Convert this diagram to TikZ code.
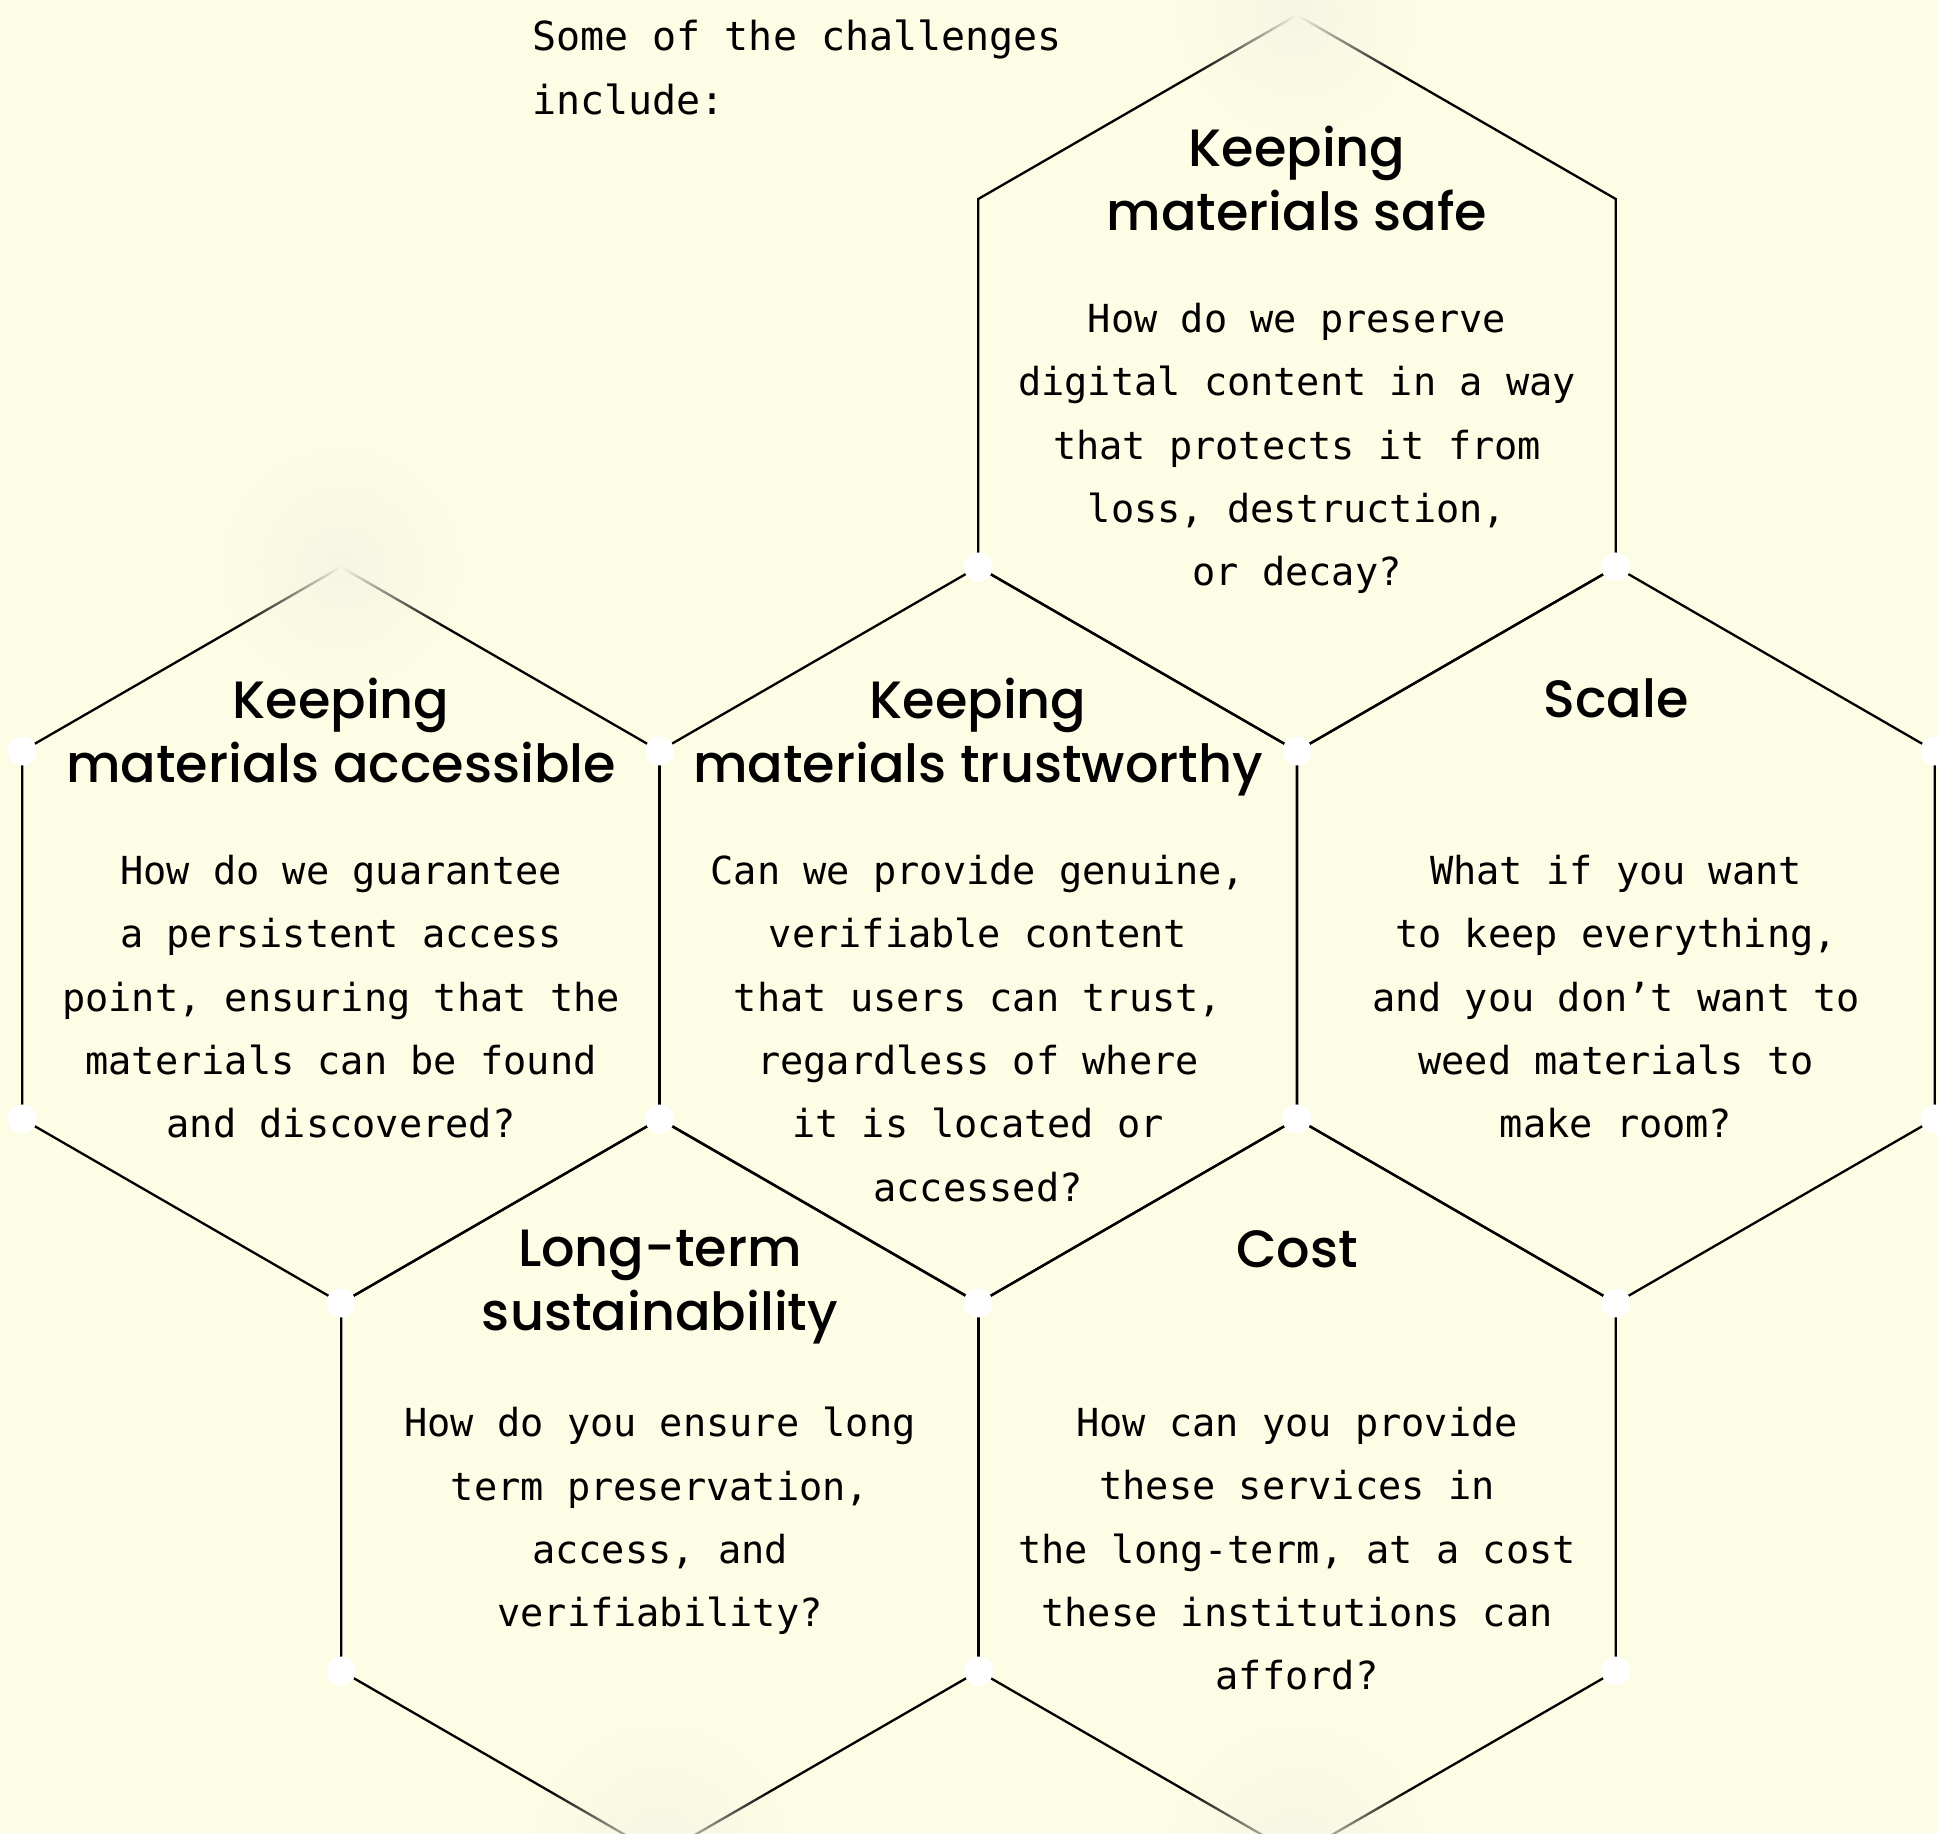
\documentclass[tikz,border=0pt]{standalone}
\usepackage{fontspec}
\setmainfont{DejaVu Sans Mono}
\newfontfamily\headfont{Poppins Medium}
\usetikzlibrary{shapes.geometric,fadings,calc}

\definecolor{paper}{RGB}{253,252,228}
\definecolor{glowcol}{RGB}{247,246,227}

\tikzfading[name=tipfade, inner color=transparent!0, outer color=transparent!100]

\tikzset{
  hexa/.style={regular polygon, regular polygon sides=6, shape border rotate=30,
    minimum size=736pt, inner sep=0pt, outer sep=0pt, draw=black, line width=2.3pt},
  vdot/.style={circle, fill=white, minimum size=29pt, inner sep=0pt},
  head/.style={align=center, anchor=north, inner sep=0pt,
    font=\headfont\fontsize{52.5}{64}\selectfont},
  body/.style={align=center, anchor=north, inner sep=0pt,
    font=\fontsize{38.6}{63.3}\selectfont},
  glow/.style={fill=glowcol, path fading=tipfade}
}

\begin{document}
\begin{tikzpicture}[x=1pt,y=1pt]
\useasboundingbox (0,0) rectangle (1937,1833);
\fill[paper] (0,0) rectangle (1937,1833);

% the honeycomb
\node[hexa] (safe)     at (1297,1450) {};
\node[hexa] (access)   at (341,898)   {};
\node[hexa] (trust)    at (978,898)   {};
\node[hexa] (scale)    at (1616,898)  {};
\node[hexa] (longterm) at (660,346)   {};
\node[hexa] (cost)     at (1297,346)  {};

% faded tips
\fill[glow] (safe.corner 1) circle (120pt);
\fill[glow] (access.corner 1) circle (120pt);
\fill[glow] (longterm.corner 4) circle (130pt);
\fill[glow] (cost.corner 4) circle (130pt);

% joints
\foreach \c [count=\i] in {safe.corner 3, safe.corner 4, safe.corner 5,
    access.corner 2, access.corner 3, access.corner 4, access.corner 5, access.corner 6,
    trust.corner 4, trust.corner 5,
    scale.corner 4, scale.corner 5, scale.corner 6,
    longterm.corner 3, longterm.corner 5, cost.corner 5}
  \node[vdot] (dot\i) at (\c) {};

\node[anchor=north west, align=left, inner sep=0pt, font=\fontsize{40}{63.3}\selectfont] (intro)
  at (532,1813) {Some of the challenges\\include:};

\node[head] (safe-head) at ($(safe)+(0,257)$) {Keeping\\materials safe};
\node[body] (safe-body) at ($(safe)+(0,80)$)
  {How do we preserve\\digital content in a way\\that protects it from\\loss, destruction,\\or decay?};

\node[head] (access-head) at ($(access)+(0,257)$) {Keeping\\materials accessible};
\node[body] (access-body) at ($(access)+(0,80)$)
  {How do we guarantee\\a persistent access\\point, ensuring that the\\materials can be found\\and discovered?};

\node[head] (trust-head) at ($(trust)+(0,257)$) {Keeping\\materials trustworthy};
\node[body] (trust-body) at ($(trust)+(0,80)$)
  {Can we provide genuine,\\verifiable content\\that users can trust,\\regardless of where\\it is located or\\accessed?};

\node[head] (scale-head) at ($(scale)+(0,257)$) {Scale};
\node[body] (scale-body) at ($(scale)+(0,80)$)
  {What if you want\\to keep everything,\\and you don’t want to\\weed materials to\\make room?};

\node[head] (longterm-head) at ($(longterm)+(0,257)$) {Long-term\\sustainability};
\node[body] (longterm-body) at ($(longterm)+(0,80)$)
  {How do you ensure long\\term preservation,\\access, and\\verifiability?};

\node[head] (cost-head) at ($(cost)+(0,257)$) {Cost};
\node[body] (cost-body) at ($(cost)+(0,80)$)
  {How can you provide\\these services in\\the long-term, at a cost\\these institutions can\\afford?};
\end{tikzpicture}
\end{document}
